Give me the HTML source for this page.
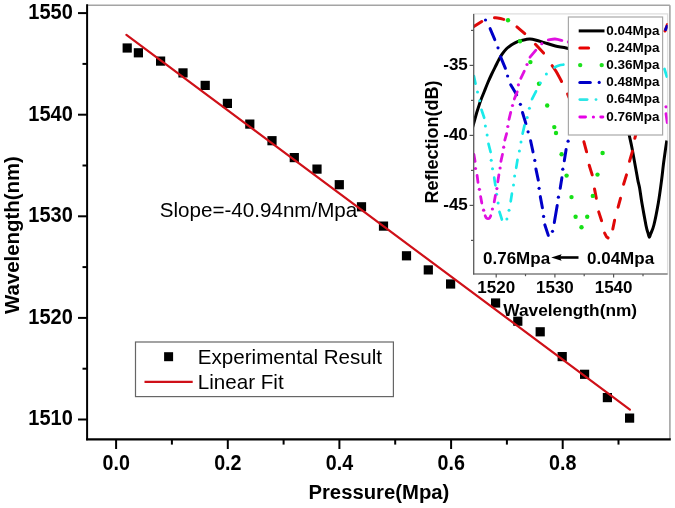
<!DOCTYPE html><html><head><meta charset="utf-8"><style>html,body{margin:0;padding:0;background:#fff;}svg{display:block;will-change:transform;filter:blur(0.4px);}</style></head><body>
<svg width="675" height="508" viewBox="0 0 675 508" font-family="&quot;Liberation Sans&quot;, sans-serif">
<rect width="675" height="508" fill="#fff"/>
<line x1="87" y1="5.3" x2="669.9" y2="5.3" stroke="#a4a4a4" stroke-width="1.5"/>
<line x1="669.9" y1="5.3" x2="669.9" y2="439" stroke="#a4a4a4" stroke-width="1.6"/>
<rect x="122.6" y="43.4" width="9.2" height="9.2" fill="#000"/>
<rect x="133.8" y="48.2" width="9.2" height="9.2" fill="#000"/>
<rect x="156.0" y="56.5" width="9.2" height="9.2" fill="#000"/>
<rect x="178.4" y="68.3" width="9.2" height="9.2" fill="#000"/>
<rect x="200.6" y="80.8" width="9.2" height="9.2" fill="#000"/>
<rect x="222.8" y="98.8" width="9.2" height="9.2" fill="#000"/>
<rect x="245.2" y="119.5" width="9.2" height="9.2" fill="#000"/>
<rect x="267.4" y="136.1" width="9.2" height="9.2" fill="#000"/>
<rect x="289.7" y="153.0" width="9.2" height="9.2" fill="#000"/>
<rect x="312.4" y="164.5" width="9.2" height="9.2" fill="#000"/>
<rect x="334.7" y="180.1" width="9.2" height="9.2" fill="#000"/>
<rect x="356.9" y="202.2" width="9.2" height="9.2" fill="#000"/>
<rect x="378.9" y="221.5" width="9.2" height="9.2" fill="#000"/>
<rect x="401.9" y="251.2" width="9.2" height="9.2" fill="#000"/>
<rect x="423.7" y="265.3" width="9.2" height="9.2" fill="#000"/>
<rect x="446.0" y="279.4" width="9.2" height="9.2" fill="#000"/>
<rect x="491.0" y="298.4" width="9.2" height="9.2" fill="#000"/>
<rect x="513.2" y="316.6" width="9.2" height="9.2" fill="#000"/>
<rect x="535.6" y="327.2" width="9.2" height="9.2" fill="#000"/>
<rect x="557.6" y="352.0" width="9.2" height="9.2" fill="#000"/>
<rect x="580.0" y="369.7" width="9.2" height="9.2" fill="#000"/>
<rect x="602.8" y="393.0" width="9.2" height="9.2" fill="#000"/>
<rect x="625.0" y="413.5" width="9.2" height="9.2" fill="#000"/>
<line x1="126.4" y1="34.8" x2="629.9" y2="409.7" stroke="#cf1018" stroke-width="2.2" stroke-linecap="round"/>
<line x1="87.1" y1="4.3" x2="87.1" y2="440.3" stroke="#000" stroke-width="2"/>
<line x1="86.1" y1="439.4" x2="670.8" y2="439.4" stroke="#000" stroke-width="2.3"/>
<line x1="78" y1="13.1" x2="87" y2="13.1" stroke="#000" stroke-width="2"/>
<line x1="82.5" y1="63.9" x2="87" y2="63.9" stroke="#000" stroke-width="2"/>
<text transform="translate(72.8,19.00) scale(1,1.07)" font-size="20" font-weight="bold" text-anchor="end">1550</text>
<line x1="78" y1="114.7" x2="87" y2="114.7" stroke="#000" stroke-width="2"/>
<line x1="82.5" y1="165.5" x2="87" y2="165.5" stroke="#000" stroke-width="2"/>
<text transform="translate(72.8,120.60) scale(1,1.07)" font-size="20" font-weight="bold" text-anchor="end">1540</text>
<line x1="78" y1="216.3" x2="87" y2="216.3" stroke="#000" stroke-width="2"/>
<line x1="82.5" y1="267.1" x2="87" y2="267.1" stroke="#000" stroke-width="2"/>
<text transform="translate(72.8,222.20) scale(1,1.07)" font-size="20" font-weight="bold" text-anchor="end">1530</text>
<line x1="78" y1="317.9" x2="87" y2="317.9" stroke="#000" stroke-width="2"/>
<line x1="82.5" y1="368.7" x2="87" y2="368.7" stroke="#000" stroke-width="2"/>
<text transform="translate(72.8,323.80) scale(1,1.07)" font-size="20" font-weight="bold" text-anchor="end">1520</text>
<line x1="78" y1="419.5" x2="87" y2="419.5" stroke="#000" stroke-width="2"/>
<text transform="translate(72.8,425.40) scale(1,1.07)" font-size="20" font-weight="bold" text-anchor="end">1510</text>
<line x1="116.1" y1="440" x2="116.1" y2="449" stroke="#000" stroke-width="2"/>
<text transform="translate(116.20,469.65) scale(0.985,1.065)" font-size="20" font-weight="bold" text-anchor="middle">0.0</text>
<line x1="171.9" y1="440" x2="171.9" y2="444.6" stroke="#000" stroke-width="2"/>
<line x1="227.8" y1="440" x2="227.8" y2="449" stroke="#000" stroke-width="2"/>
<text transform="translate(227.85,469.65) scale(0.985,1.065)" font-size="20" font-weight="bold" text-anchor="middle">0.2</text>
<line x1="283.6" y1="440" x2="283.6" y2="444.6" stroke="#000" stroke-width="2"/>
<line x1="339.4" y1="440" x2="339.4" y2="449" stroke="#000" stroke-width="2"/>
<text transform="translate(339.50,469.65) scale(0.985,1.065)" font-size="20" font-weight="bold" text-anchor="middle">0.4</text>
<line x1="395.2" y1="440" x2="395.2" y2="444.6" stroke="#000" stroke-width="2"/>
<line x1="451.1" y1="440" x2="451.1" y2="449" stroke="#000" stroke-width="2"/>
<text transform="translate(451.15,469.65) scale(0.985,1.065)" font-size="20" font-weight="bold" text-anchor="middle">0.6</text>
<line x1="506.9" y1="440" x2="506.9" y2="444.6" stroke="#000" stroke-width="2"/>
<line x1="562.7" y1="440" x2="562.7" y2="449" stroke="#000" stroke-width="2"/>
<text transform="translate(562.80,469.65) scale(0.985,1.065)" font-size="20" font-weight="bold" text-anchor="middle">0.8</text>
<line x1="618.5" y1="440" x2="618.5" y2="444.6" stroke="#000" stroke-width="2"/>
<text x="378.9" y="499.3" font-size="20.3" font-weight="bold" text-anchor="middle">Pressure(Mpa)</text>
<text transform="translate(19.1,235.1) rotate(-90)" font-size="20.4" font-weight="bold" text-anchor="middle">Wavelength(nm)</text>
<text x="159.8" y="217.2" font-size="20.6">Slope=-40.94nm/Mpa</text>
<rect x="135.5" y="342" width="257.9" height="54.6" fill="#fff" stroke="#666" stroke-width="1.2"/>
<rect x="164.1" y="352.2" width="9" height="9" fill="#000"/>
<line x1="144.5" y1="381.9" x2="192.7" y2="381.9" stroke="#cf1018" stroke-width="2.2"/>
<text x="197.8" y="363.8" font-size="20.6">Experimental Result</text>
<text x="197.8" y="389" font-size="20.6">Linear Fit</text>
<rect x="473.7" y="13.9" width="193.9" height="260.1" fill="#fff" stroke="#dedede" stroke-width="1.3"/>
<clipPath id="ic"><rect x="473.7" y="13.9" width="193.9" height="260.1"/></clipPath>
<g clip-path="url(#ic)">
<path d="M471.8,130.0 C472.1,128.9 472.9,126.4 473.8,123.2 C474.7,120.0 476.1,114.6 477.3,110.8 C478.5,107.0 479.6,103.5 480.8,100.2 C482.0,97.0 483.2,94.2 484.4,91.3 C485.6,88.3 486.7,85.3 487.9,82.5 C489.1,79.7 490.3,77.0 491.5,74.5 C492.7,72.0 493.8,69.8 495.0,67.4 C496.2,65.1 497.3,62.6 498.5,60.4 C499.7,58.2 500.8,56.1 502.1,54.2 C503.4,52.3 505.0,50.3 506.5,48.8 C508.0,47.3 509.5,46.3 510.9,45.3 C512.3,44.3 513.6,43.5 515.0,42.8 C516.4,42.1 517.6,41.6 519.4,41.0 C521.2,40.4 524.1,39.7 525.9,39.4 C527.7,39.1 528.4,38.9 530.0,39.0 C531.6,39.1 533.1,39.4 535.4,40.0 C537.7,40.6 540.3,41.4 543.6,42.4 C546.9,43.4 551.5,45.0 555.4,46.0 C559.3,47.0 562.3,46.9 567.2,48.2 C572.1,49.5 579.0,51.0 585.0,54.0 C591.0,57.0 597.7,60.0 603.0,66.0 C608.3,72.0 613.3,82.2 617.0,90.0 C620.7,97.8 623.0,105.7 625.0,113.0 C627.0,120.3 627.8,128.2 629.0,134.0 C630.2,139.8 631.0,142.8 632.0,148.0 C633.0,153.2 634.2,160.1 635.2,165.4 C636.2,170.7 637.1,176.2 637.8,180.0 C638.5,183.8 638.9,184.1 639.6,188.0 C640.3,191.9 640.9,197.3 642.0,203.6 C643.1,209.8 645.0,220.4 646.0,225.5 C647.0,230.6 647.7,232.0 648.3,234.0 C648.9,236.0 649.0,237.3 649.4,237.3 C649.8,237.3 649.9,236.1 650.6,234.0 C651.4,231.9 652.6,230.3 653.9,225.0 C655.2,219.7 657.1,209.9 658.4,202.4 C659.7,194.9 660.8,186.2 661.6,180.0 C662.4,173.8 662.7,170.4 663.3,165.4 C663.9,160.4 664.8,154.2 665.4,150.0 C666.0,145.8 666.6,142.1 666.8,140.5" fill="none" stroke="#000" stroke-width="3" stroke-linejoin="round"/>
<path d="M473.5,26.8 L481.8,21.5" fill="none" stroke="#e00808" stroke-width="3.0" stroke-linecap="round" stroke-linejoin="round"/><path d="M494.5,17.7 C495.2,17.8 497.4,17.9 499.0,18.2 C500.6,18.5 503.0,19.2 503.8,19.4" fill="none" stroke="#e00808" stroke-width="3.0" stroke-linecap="round" stroke-linejoin="round"/><path d="M516.9,26.9 L524.8,33.6" fill="none" stroke="#e00808" stroke-width="3.0" stroke-linecap="round" stroke-linejoin="round"/><path d="M535.4,44.3 L543.6,53.1" fill="none" stroke="#e00808" stroke-width="3.0" stroke-linecap="round" stroke-linejoin="round"/><path d="M552.1,65.6 C552.8,66.5 554.4,68.6 556.0,71.3 C557.6,74.0 560.7,79.8 561.6,81.5" fill="none" stroke="#e00808" stroke-width="3.0" stroke-linecap="round" stroke-linejoin="round"/><path d="M567.6,94.0 L569.0,97.5" fill="none" stroke="#e00808" stroke-width="3.0" stroke-linecap="round" stroke-linejoin="round"/><path d="M583.9,141.8 L586.6,151.8" fill="none" stroke="#e00808" stroke-width="3.0" stroke-linecap="round" stroke-linejoin="round"/><path d="M589.2,165.2 L592.2,174.9" fill="none" stroke="#e00808" stroke-width="3.0" stroke-linecap="round" stroke-linejoin="round"/><path d="M594.5,188.9 L596.3,198.3" fill="none" stroke="#e00808" stroke-width="3.0" stroke-linecap="round" stroke-linejoin="round"/><path d="M598.7,211.9 L601.6,220.7" fill="none" stroke="#e00808" stroke-width="3.0" stroke-linecap="round" stroke-linejoin="round"/><path d="M604.6,233.1 C604.9,233.7 606.0,236.0 606.6,236.8 C607.2,237.6 607.9,237.7 608.1,237.9" fill="none" stroke="#e00808" stroke-width="3.0" stroke-linecap="round" stroke-linejoin="round"/><path d="M612.8,229.0 L614.6,220.2" fill="none" stroke="#e00808" stroke-width="3.0" stroke-linecap="round" stroke-linejoin="round"/><path d="M618.1,207.2 L620.5,198.3" fill="none" stroke="#e00808" stroke-width="3.0" stroke-linecap="round" stroke-linejoin="round"/><path d="M623.6,184.3 L626.5,174.9" fill="none" stroke="#e00808" stroke-width="3.0" stroke-linecap="round" stroke-linejoin="round"/><path d="M629.5,161.3 L632.4,151.3" fill="none" stroke="#e00808" stroke-width="3.0" stroke-linecap="round" stroke-linejoin="round"/><path d="M634.8,138.3 L636.5,132.0" fill="none" stroke="#e00808" stroke-width="3.0" stroke-linecap="round" stroke-linejoin="round"/><path d="M665.0,31.0 L667.4,24.5" fill="none" stroke="#e00808" stroke-width="3.0" stroke-linecap="round" stroke-linejoin="round"/>
<circle cx="508.0" cy="20.2" r="2.2" fill="#16e016"/><circle cx="520.0" cy="41.3" r="2.2" fill="#16e016"/><circle cx="530.4" cy="62.1" r="2.2" fill="#16e016"/><circle cx="539.0" cy="83.8" r="2.2" fill="#16e016"/><circle cx="547.2" cy="105.5" r="2.2" fill="#16e016"/><circle cx="554.3" cy="127.1" r="2.2" fill="#16e016"/><circle cx="556.0" cy="133.0" r="2.2" fill="#16e016"/><circle cx="561.6" cy="154.3" r="2.2" fill="#16e016"/><circle cx="566.6" cy="175.6" r="2.2" fill="#16e016"/><circle cx="571.5" cy="197.1" r="2.2" fill="#16e016"/><circle cx="575.6" cy="216.8" r="2.2" fill="#16e016"/><circle cx="581.5" cy="227.2" r="2.2" fill="#16e016"/><circle cx="587.2" cy="216.8" r="2.2" fill="#16e016"/><circle cx="592.8" cy="195.9" r="2.2" fill="#16e016"/><circle cx="597.5" cy="174.6" r="2.2" fill="#16e016"/><circle cx="602.6" cy="153.0" r="2.2" fill="#16e016"/>
<path d="M490.1,28.6 L494.8,39.6" fill="none" stroke="#0000c8" stroke-width="3.0" stroke-linecap="round" stroke-linejoin="round"/><path d="M500.5,56.7 L505.4,68.3" fill="none" stroke="#0000c8" stroke-width="3.0" stroke-linecap="round" stroke-linejoin="round"/><path d="M510.7,84.8 L516.7,94.8" fill="none" stroke="#0000c8" stroke-width="3.0" stroke-linecap="round" stroke-linejoin="round"/><path d="M522.5,112.5 L525.9,123.6" fill="none" stroke="#0000c8" stroke-width="3.0" stroke-linecap="round" stroke-linejoin="round"/><path d="M530.6,140.7 L533.0,151.9" fill="none" stroke="#0000c8" stroke-width="3.0" stroke-linecap="round" stroke-linejoin="round"/><path d="M535.9,168.9 L538.3,180.1" fill="none" stroke="#0000c8" stroke-width="3.0" stroke-linecap="round" stroke-linejoin="round"/><path d="M540.3,196.6 L542.4,207.8" fill="none" stroke="#0000c8" stroke-width="3.0" stroke-linecap="round" stroke-linejoin="round"/><path d="M544.8,224.8 L548.3,235.4" fill="none" stroke="#0000c8" stroke-width="3.0" stroke-linecap="round" stroke-linejoin="round"/><path d="M554.3,222.4 L557.2,205.4" fill="none" stroke="#0000c8" stroke-width="3.0" stroke-linecap="round" stroke-linejoin="round"/><path d="M560.2,188.3 L561.9,177.7" fill="none" stroke="#0000c8" stroke-width="3.0" stroke-linecap="round" stroke-linejoin="round"/><path d="M564.3,160.8 L566.1,149.6" fill="none" stroke="#0000c8" stroke-width="3.0" stroke-linecap="round" stroke-linejoin="round"/><path d="M665.7,29.5 L667.0,26.3" fill="none" stroke="#0000c8" stroke-width="3.0" stroke-linecap="round" stroke-linejoin="round"/>
<circle cx="485.5" cy="20.0" r="1.6" fill="#0000c8"/><circle cx="498.0" cy="47.8" r="1.6" fill="#0000c8"/><circle cx="507.6" cy="76.0" r="1.6" fill="#0000c8"/><circle cx="520.4" cy="104.3" r="1.6" fill="#0000c8"/><circle cx="528.1" cy="131.8" r="1.6" fill="#0000c8"/><circle cx="534.8" cy="160.4" r="1.6" fill="#0000c8"/><circle cx="539.1" cy="188.3" r="1.6" fill="#0000c8"/><circle cx="543.6" cy="216.4" r="1.6" fill="#0000c8"/><circle cx="552.5" cy="231.3" r="1.6" fill="#0000c8"/><circle cx="558.4" cy="197.2" r="1.6" fill="#0000c8"/><circle cx="562.8" cy="169.2" r="1.6" fill="#0000c8"/><circle cx="568.1" cy="141.2" r="1.6" fill="#0000c8"/>
<path d="M473.9,76.0 L475.5,83.6" fill="none" stroke="#1aeaea" stroke-width="2.7" stroke-linecap="round" stroke-linejoin="round"/><path d="M481.5,109.8 L484.2,117.8" fill="none" stroke="#1aeaea" stroke-width="2.7" stroke-linecap="round" stroke-linejoin="round"/><path d="M488.5,143.8 L490.6,152.0" fill="none" stroke="#1aeaea" stroke-width="2.7" stroke-linecap="round" stroke-linejoin="round"/><path d="M494.2,177.7 L495.4,185.4" fill="none" stroke="#1aeaea" stroke-width="2.7" stroke-linecap="round" stroke-linejoin="round"/><path d="M499.5,211.9 L501.9,219.5" fill="none" stroke="#1aeaea" stroke-width="2.7" stroke-linecap="round" stroke-linejoin="round"/><path d="M510.7,201.3 L511.9,193.7" fill="none" stroke="#1aeaea" stroke-width="2.7" stroke-linecap="round" stroke-linejoin="round"/><path d="M516.2,167.8 L517.5,159.8" fill="none" stroke="#1aeaea" stroke-width="2.7" stroke-linecap="round" stroke-linejoin="round"/><path d="M522.6,133.6 L524.5,125.4" fill="none" stroke="#1aeaea" stroke-width="2.7" stroke-linecap="round" stroke-linejoin="round"/><path d="M532.0,99.2 L536.0,91.3" fill="none" stroke="#1aeaea" stroke-width="2.7" stroke-linecap="round" stroke-linejoin="round"/><path d="M554.5,67.4 C555.2,67.1 557.5,66.0 559.0,65.5 C560.5,65.0 562.7,64.8 563.4,64.7" fill="none" stroke="#1aeaea" stroke-width="2.7" stroke-linecap="round" stroke-linejoin="round"/><path d="M664.5,69.0 L666.8,76.5" fill="none" stroke="#1aeaea" stroke-width="2.7" stroke-linecap="round" stroke-linejoin="round"/>
<circle cx="477.5" cy="91.9" r="1.5" fill="#1aeaea"/><circle cx="479.7" cy="100.7" r="1.5" fill="#1aeaea"/><circle cx="485.4" cy="126.0" r="1.5" fill="#1aeaea"/><circle cx="487.1" cy="134.9" r="1.5" fill="#1aeaea"/><circle cx="491.2" cy="160.3" r="1.5" fill="#1aeaea"/><circle cx="492.5" cy="168.8" r="1.5" fill="#1aeaea"/><circle cx="496.6" cy="194.3" r="1.5" fill="#1aeaea"/><circle cx="498.1" cy="203.1" r="1.5" fill="#1aeaea"/><circle cx="506.9" cy="219.0" r="1.5" fill="#1aeaea"/><circle cx="509.0" cy="210.2" r="1.5" fill="#1aeaea"/><circle cx="513.5" cy="185.0" r="1.5" fill="#1aeaea"/><circle cx="514.6" cy="175.9" r="1.5" fill="#1aeaea"/><circle cx="519.4" cy="151.1" r="1.5" fill="#1aeaea"/><circle cx="521.0" cy="141.9" r="1.5" fill="#1aeaea"/><circle cx="527.2" cy="117.4" r="1.5" fill="#1aeaea"/><circle cx="529.4" cy="108.2" r="1.5" fill="#1aeaea"/><circle cx="540.4" cy="83.1" r="1.5" fill="#1aeaea"/><circle cx="546.4" cy="74.0" r="1.5" fill="#1aeaea"/>
<path d="M473.9,154.4 L475.1,161.4" fill="none" stroke="#e010e0" stroke-width="2.8" stroke-linecap="round" stroke-linejoin="round"/><path d="M477.1,175.4 L478.0,182.4" fill="none" stroke="#e010e0" stroke-width="2.8" stroke-linecap="round" stroke-linejoin="round"/><path d="M480.6,196.6 L481.8,203.1" fill="none" stroke="#e010e0" stroke-width="2.8" stroke-linecap="round" stroke-linejoin="round"/><path d="M485.2,215.8 C485.4,216.2 485.9,217.5 486.4,218.0 C486.9,218.5 487.5,218.7 488.0,218.7 C488.5,218.7 489.2,218.5 489.6,218.0 C490.1,217.5 490.5,216.2 490.7,215.8" fill="none" stroke="#e010e0" stroke-width="2.8" stroke-linecap="round" stroke-linejoin="round"/><path d="M494.2,201.9 L495.4,195.4" fill="none" stroke="#e010e0" stroke-width="2.8" stroke-linecap="round" stroke-linejoin="round"/><path d="M497.8,181.8 L498.9,174.8" fill="none" stroke="#e010e0" stroke-width="2.8" stroke-linecap="round" stroke-linejoin="round"/><path d="M500.9,161.4 L502.5,154.3" fill="none" stroke="#e010e0" stroke-width="2.8" stroke-linecap="round" stroke-linejoin="round"/><path d="M504.8,140.1 L506.6,133.6" fill="none" stroke="#e010e0" stroke-width="2.8" stroke-linecap="round" stroke-linejoin="round"/><path d="M509.0,119.4 L510.7,112.4" fill="none" stroke="#e010e0" stroke-width="2.8" stroke-linecap="round" stroke-linejoin="round"/><path d="M514.3,99.0 L517.2,91.9" fill="none" stroke="#e010e0" stroke-width="2.8" stroke-linecap="round" stroke-linejoin="round"/><path d="M520.8,78.3 L524.3,71.2" fill="none" stroke="#e010e0" stroke-width="2.8" stroke-linecap="round" stroke-linejoin="round"/><path d="M530.0,57.2 L535.9,50.2" fill="none" stroke="#e010e0" stroke-width="2.8" stroke-linecap="round" stroke-linejoin="round"/><path d="M548.3,39.8 C549.4,39.7 552.7,38.9 555.0,39.0 C557.3,39.1 560.8,40.2 561.9,40.5" fill="none" stroke="#e010e0" stroke-width="2.8" stroke-linecap="round" stroke-linejoin="round"/><path d="M666.0,113.7 L667.2,122.6" fill="none" stroke="#e010e0" stroke-width="2.8" stroke-linecap="round" stroke-linejoin="round"/>
<circle cx="475.5" cy="168.5" r="1.6" fill="#e010e0"/><circle cx="479.4" cy="189.3" r="1.6" fill="#e010e0"/><circle cx="483.6" cy="210.2" r="1.6" fill="#e010e0"/><circle cx="492.4" cy="209.0" r="1.6" fill="#e010e0"/><circle cx="496.9" cy="188.6" r="1.6" fill="#e010e0"/><circle cx="500.1" cy="168.0" r="1.6" fill="#e010e0"/><circle cx="503.7" cy="147.2" r="1.6" fill="#e010e0"/><circle cx="507.8" cy="126.5" r="1.6" fill="#e010e0"/><circle cx="512.5" cy="105.5" r="1.6" fill="#e010e0"/><circle cx="518.4" cy="84.8" r="1.6" fill="#e010e0"/><circle cx="527.0" cy="64.5" r="1.6" fill="#e010e0"/><circle cx="541.8" cy="43.7" r="1.6" fill="#e010e0"/><circle cx="568.4" cy="41.9" r="1.6" fill="#e010e0"/><circle cx="666.0" cy="106.8" r="1.6" fill="#e010e0"/>
</g>
<line x1="473.7" y1="13.9" x2="473.7" y2="274.6" stroke="#555" stroke-width="1.2"/>
<line x1="473.1" y1="274.0" x2="667.6" y2="274.0" stroke="#555" stroke-width="1.2"/>
<line x1="469.6" y1="65.4" x2="473.7" y2="65.4" stroke="#555" stroke-width="1.2"/>
<text x="467.8" y="70.0" font-size="17" font-weight="bold" text-anchor="end">-35</text>
<line x1="469.6" y1="135.4" x2="473.7" y2="135.4" stroke="#555" stroke-width="1.2"/>
<text x="467.8" y="140.0" font-size="17" font-weight="bold" text-anchor="end">-40</text>
<line x1="469.6" y1="205.4" x2="473.7" y2="205.4" stroke="#555" stroke-width="1.2"/>
<text x="467.8" y="210.0" font-size="17" font-weight="bold" text-anchor="end">-45</text>
<line x1="471" y1="30.4" x2="473.7" y2="30.4" stroke="#555" stroke-width="1.2"/>
<line x1="471" y1="100.4" x2="473.7" y2="100.4" stroke="#555" stroke-width="1.2"/>
<line x1="471" y1="170.4" x2="473.7" y2="170.4" stroke="#555" stroke-width="1.2"/>
<line x1="471" y1="240.4" x2="473.7" y2="240.4" stroke="#555" stroke-width="1.2"/>
<line x1="496.2" y1="274.0" x2="496.2" y2="277.4" stroke="#555" stroke-width="1.2"/>
<text x="496.2" y="293.4" font-size="17" font-weight="bold" text-anchor="middle">1520</text>
<line x1="554.9" y1="274.0" x2="554.9" y2="277.4" stroke="#555" stroke-width="1.2"/>
<text x="554.9" y="293.4" font-size="17" font-weight="bold" text-anchor="middle">1530</text>
<line x1="613.6" y1="274.0" x2="613.6" y2="277.4" stroke="#555" stroke-width="1.2"/>
<text x="613.6" y="293.4" font-size="17" font-weight="bold" text-anchor="middle">1540</text>
<line x1="525.5" y1="274.0" x2="525.5" y2="276.2" stroke="#555" stroke-width="1.2"/>
<line x1="584.2" y1="274.0" x2="584.2" y2="276.2" stroke="#555" stroke-width="1.2"/>
<line x1="643.0" y1="274.0" x2="643.0" y2="276.2" stroke="#555" stroke-width="1.2"/>
<text x="570.2" y="315.7" font-size="17.3" font-weight="bold" text-anchor="middle">Wavelength(nm)</text>
<text transform="translate(437.8,142.1) rotate(-90)" font-size="18" font-weight="bold" text-anchor="middle">Reflection(dB)</text>
<text x="483" y="263.6" font-size="17" font-weight="bold">0.76Mpa</text>
<text x="587" y="263.6" font-size="17" font-weight="bold">0.04Mpa</text>
<line x1="558" y1="257.5" x2="578.5" y2="257.5" stroke="#000" stroke-width="2.6"/>
<path d="M551.2,257.5 L561.6,254.2 L560,257.5 L561.6,260.8 Z" fill="#000"/>
<rect x="568.4" y="17" width="94.2" height="118" fill="#fff" stroke="#a8a8a8" stroke-width="1.2"/>
<text x="606.2" y="35.3" font-size="13.5" font-weight="bold">0.04Mpa</text>
<text x="606.2" y="51.8" font-size="13.5" font-weight="bold">0.24Mpa</text>
<text x="606.2" y="68.7" font-size="13.5" font-weight="bold">0.36Mpa</text>
<text x="606.2" y="86.1" font-size="13.5" font-weight="bold">0.48Mpa</text>
<text x="606.2" y="103.2" font-size="13.5" font-weight="bold">0.64Mpa</text>
<text x="606.2" y="120.7" font-size="13.5" font-weight="bold">0.76Mpa</text>
<line x1="578.7" y1="30.9" x2="604.5" y2="30.9" stroke="#000" stroke-width="3"/>
<line x1="579.8" y1="47.9" x2="588.6" y2="47.9" stroke="#e80000" stroke-width="3" stroke-linecap="round"/>
<circle cx="580.2" cy="65.1" r="2.2" fill="#1ee01e"/><circle cx="601.7" cy="65.1" r="2.2" fill="#1ee01e"/>
<line x1="579.8" y1="82.4" x2="590.3" y2="82.4" stroke="#0000c8" stroke-width="3" stroke-linecap="round"/><circle cx="599.2" cy="82.4" r="1.6" fill="#0000c8"/>
<line x1="579.8" y1="99.6" x2="587.2" y2="99.6" stroke="#2ee6e6" stroke-width="2.7" stroke-linecap="round"/><circle cx="596" cy="99.6" r="1.4" fill="#2ee6e6"/>
<line x1="579.8" y1="117" x2="585.6" y2="117" stroke="#e600e6" stroke-width="2.8" stroke-linecap="round"/><circle cx="593.4" cy="117" r="1.6" fill="#e600e6"/><line x1="600.7" y1="117" x2="602.9" y2="117" stroke="#e600e6" stroke-width="2.8" stroke-linecap="round"/>
</svg></body></html>
